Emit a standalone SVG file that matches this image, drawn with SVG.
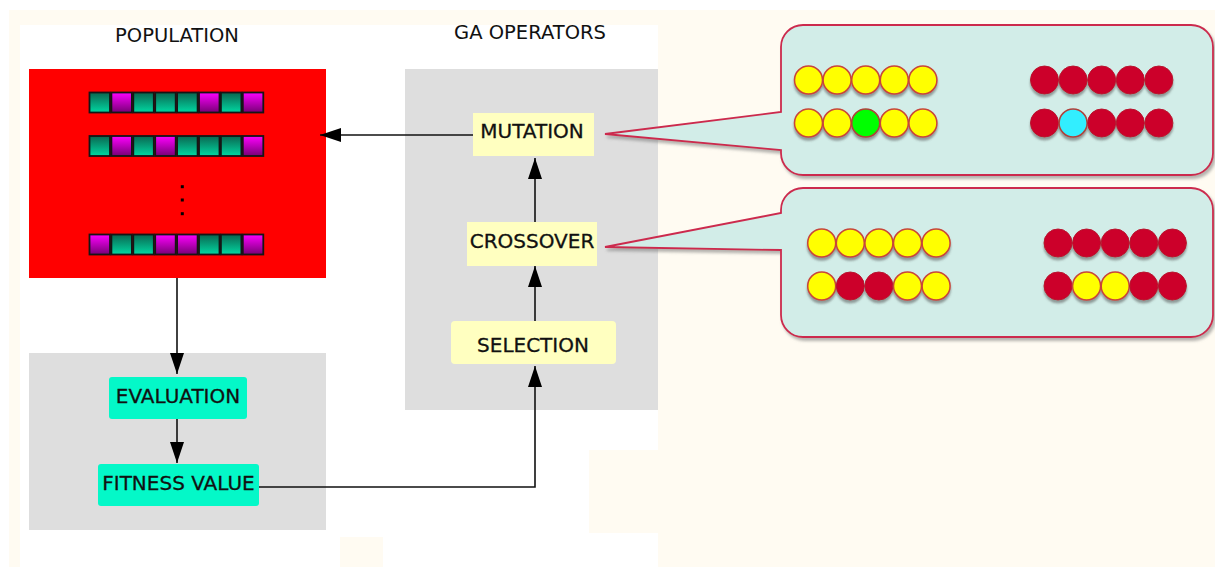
<svg xmlns="http://www.w3.org/2000/svg" width="1215" height="567" viewBox="0 0 1215 567">
  <style>
    .title { font-family: "DejaVu Sans", "Liberation Sans", sans-serif; font-size: 19.5px; fill: #111; text-anchor: middle; }
    .lbl { font-family: "DejaVu Sans", "Liberation Sans", sans-serif; font-size: 20px; fill: #111; stroke: #111; stroke-width: 0.3; text-anchor: middle; }
    .op { fill: #ffffc0; }
    .ev { fill: #04f8c8; }
    .panel { fill: #dedede; }
    .cell { stroke: #151515; stroke-width: 1.8; }
    .t { fill: url(#teal); }
    .m { fill: url(#mag); }
    .wire { fill: none; stroke: #111; stroke-width: 1.6; }
    .bubble { fill: #d2ede8; stroke: #cc2a4d; stroke-width: 1.8; filter: url(#bshadow); }
    .y { fill: #ffff00; stroke: #c8453a; stroke-width: 1.5; }
    .r { fill: #cc0029; stroke: #b8142e; stroke-width: 1; }
    .g { fill: #00ff00; stroke: #b0403a; stroke-width: 1.5; }
    .c { fill: #33eeff; stroke: #b0403a; stroke-width: 1.5; }
  </style>
  <defs>
    <linearGradient id="teal" x1="0" y1="0" x2="0" y2="1">
      <stop offset="0" stop-color="#0b6650"/>
      <stop offset="1" stop-color="#00d8a2"/>
    </linearGradient>
    <linearGradient id="mag" x1="0" y1="0" x2="0" y2="1">
      <stop offset="0" stop-color="#ff00ff"/>
      <stop offset="1" stop-color="#780076"/>
    </linearGradient>
    <marker id="arrow" markerUnits="userSpaceOnUse" markerWidth="22" markerHeight="16" refX="21" refY="7" orient="auto">
      <path d="M0,0 L21,7 L0,14 Z" fill="#000"/>
    </marker>
    <filter id="bshadow" x="-5%" y="-10%" width="115%" height="125%">
      <feDropShadow dx="2" dy="3" stdDeviation="1.5" flood-color="#777" flood-opacity="0.55"/>
    </filter>
    <filter id="dshadow" x="-30%" y="-30%" width="160%" height="170%">
      <feDropShadow dx="0" dy="3" stdDeviation="1.3" flood-color="#555" flood-opacity="0.55"/>
    </filter>
  </defs>

  <!-- page background -->
  <rect x="0" y="0" width="1215" height="567" fill="#ffffff"/>
  <rect x="9" y="10" width="1206" height="557" fill="#fffbf2"/>
  <rect x="20" y="25" width="638" height="542" fill="#ffffff"/>
  <rect x="340" y="537" width="43" height="30" fill="#fffbf2"/>
  <rect x="589" y="450" width="69" height="83" fill="#fffbf2"/>

  <!-- section headings -->
  <text class="title" x="177" y="42">POPULATION</text>
  <text class="title" x="530" y="39">GA OPERATORS</text>

  <!-- population block with chromosomes -->
  <g id="population">
    <rect x="29" y="69" width="297" height="209" fill="#ff0000"/>
    <g id="chrom1">
      <rect class="cell t" x="89.5" y="92.5" width="20.5" height="20"/>
      <rect class="cell m" x="111.4" y="92.5" width="20.5" height="20"/>
      <rect class="cell t" x="133.3" y="92.5" width="20.5" height="20"/>
      <rect class="cell t" x="155.2" y="92.5" width="20.5" height="20"/>
      <rect class="cell t" x="177.1" y="92.5" width="20.5" height="20"/>
      <rect class="cell m" x="199.0" y="92.5" width="20.5" height="20"/>
      <rect class="cell t" x="220.9" y="92.5" width="20.5" height="20"/>
      <rect class="cell m" x="242.8" y="92.5" width="20.5" height="20"/>
    </g>
    <g id="chrom2">
      <rect class="cell t" x="89.5" y="136" width="20.5" height="20"/>
      <rect class="cell m" x="111.4" y="136" width="20.5" height="20"/>
      <rect class="cell t" x="133.3" y="136" width="20.5" height="20"/>
      <rect class="cell m" x="155.2" y="136" width="20.5" height="20"/>
      <rect class="cell t" x="177.1" y="136" width="20.5" height="20"/>
      <rect class="cell t" x="199.0" y="136" width="20.5" height="20"/>
      <rect class="cell t" x="220.9" y="136" width="20.5" height="20"/>
      <rect class="cell m" x="242.8" y="136" width="20.5" height="20"/>
    </g>
    <g id="ellipsis" fill="#000">
      <rect x="180.8" y="185.2" width="3" height="3"/>
      <rect x="180.8" y="198.5" width="3" height="3"/>
      <rect x="180.8" y="212.2" width="3" height="3"/>
    </g>
    <g id="chromN">
      <rect class="cell m" x="89.5" y="234.5" width="20.5" height="20"/>
      <rect class="cell t" x="111.4" y="234.5" width="20.5" height="20"/>
      <rect class="cell t" x="133.3" y="234.5" width="20.5" height="20"/>
      <rect class="cell m" x="155.2" y="234.5" width="20.5" height="20"/>
      <rect class="cell m" x="177.1" y="234.5" width="20.5" height="20"/>
      <rect class="cell t" x="199.0" y="234.5" width="20.5" height="20"/>
      <rect class="cell t" x="220.9" y="234.5" width="20.5" height="20"/>
      <rect class="cell m" x="242.8" y="234.5" width="20.5" height="20"/>
    </g>
  </g>

  <!-- evaluation panel -->
  <g id="eval-panel">
    <rect class="panel" x="29" y="353" width="297" height="177"/>
  </g>
  <g id="evaluation">
    <rect class="ev" x="109" y="377" width="138" height="42" rx="3"/>
    <text class="lbl" x="178" y="403">EVALUATION</text>
  </g>
  <g id="fitness">
    <rect class="ev" x="98" y="464" width="161" height="42" rx="3"/>
    <text class="lbl" x="178.5" y="490">FITNESS VALUE</text>
  </g>

  <!-- GA operators panel -->
  <g id="ga-panel">
    <rect class="panel" x="405" y="69" width="253" height="341"/>
  </g>
  <g id="mutation">
    <rect class="op" x="473" y="113" width="121" height="43"/>
    <text class="lbl" x="532" y="138">MUTATION</text>
  </g>
  <g id="crossover">
    <rect class="op" x="467" y="222" width="130" height="44"/>
    <text class="lbl" x="532" y="248">CROSSOVER</text>
  </g>
  <g id="selection">
    <rect class="op" x="451" y="321" width="165" height="43" rx="4"/>
    <text class="lbl" x="533" y="352">SELECTION</text>
  </g>

  <!-- connectors -->
  <g id="connectors">
    <path class="wire" d="M473,135 H320" marker-end="url(#arrow)"/>
    <path class="wire" d="M535,222 V158" marker-end="url(#arrow)"/>
    <path class="wire" d="M535,321 V266" marker-end="url(#arrow)"/>
    <path class="wire" d="M259,487 H535 V366" marker-end="url(#arrow)"/>
    <path class="wire" d="M177,278 V374" marker-end="url(#arrow)"/>
    <path class="wire" d="M177,419 V463" marker-end="url(#arrow)"/>
  </g>

  <!-- mutation example callout -->
  <g id="mutation-callout">
    <path class="bubble" d="M803,25 H1191 A22,22 0 0 1 1213,47 V153 A22,22 0 0 1 1191,175 H803 A22,22 0 0 1 781,153 V150 L605,134 L781,112 V47 A22,22 0 0 1 803,25 Z"/>
    <g filter="url(#dshadow)">
      <circle class="y" cx="808.5" cy="80" r="14"/>
      <circle class="y" cx="837.1" cy="80" r="14"/>
      <circle class="y" cx="865.7" cy="80" r="14"/>
      <circle class="y" cx="894.3" cy="80" r="14"/>
      <circle class="y" cx="922.9" cy="80" r="14"/>
      <circle class="y" cx="808.5" cy="123" r="14"/>
      <circle class="y" cx="837.1" cy="123" r="14"/>
      <circle class="g" cx="865.7" cy="123" r="14"/>
      <circle class="y" cx="894.3" cy="123" r="14"/>
      <circle class="y" cx="922.9" cy="123" r="14"/>
      <circle class="r" cx="1044.5" cy="80" r="14"/>
      <circle class="r" cx="1073.1" cy="80" r="14"/>
      <circle class="r" cx="1101.7" cy="80" r="14"/>
      <circle class="r" cx="1130.3" cy="80" r="14"/>
      <circle class="r" cx="1158.9" cy="80" r="14"/>
      <circle class="r" cx="1044.5" cy="123" r="14"/>
      <circle class="c" cx="1073.1" cy="123" r="14"/>
      <circle class="r" cx="1101.7" cy="123" r="14"/>
      <circle class="r" cx="1130.3" cy="123" r="14"/>
      <circle class="r" cx="1158.9" cy="123" r="14"/>
    </g>
  </g>

  <!-- crossover example callout -->
  <g id="crossover-callout">
    <path class="bubble" d="M803,188 H1191 A22,22 0 0 1 1213,210 V315 A22,22 0 0 1 1191,337 H803 A22,22 0 0 1 781,315 V250 L605,247 L781,213 V210 A22,22 0 0 1 803,188 Z"/>
    <g filter="url(#dshadow)">
      <circle class="y" cx="821.7" cy="243" r="14"/>
      <circle class="y" cx="850.3" cy="243" r="14"/>
      <circle class="y" cx="878.9" cy="243" r="14"/>
      <circle class="y" cx="907.5" cy="243" r="14"/>
      <circle class="y" cx="936.1" cy="243" r="14"/>
      <circle class="y" cx="821.7" cy="286" r="14"/>
      <circle class="r" cx="850.3" cy="286" r="14"/>
      <circle class="r" cx="878.9" cy="286" r="14"/>
      <circle class="y" cx="907.5" cy="286" r="14"/>
      <circle class="y" cx="936.1" cy="286" r="14"/>
      <circle class="r" cx="1058" cy="243" r="14"/>
      <circle class="r" cx="1086.6" cy="243" r="14"/>
      <circle class="r" cx="1115.2" cy="243" r="14"/>
      <circle class="r" cx="1143.8" cy="243" r="14"/>
      <circle class="r" cx="1172.4" cy="243" r="14"/>
      <circle class="r" cx="1058" cy="286" r="14"/>
      <circle class="y" cx="1086.6" cy="286" r="14"/>
      <circle class="y" cx="1115.2" cy="286" r="14"/>
      <circle class="r" cx="1143.8" cy="286" r="14"/>
      <circle class="r" cx="1172.4" cy="286" r="14"/>
    </g>
  </g>
</svg>
